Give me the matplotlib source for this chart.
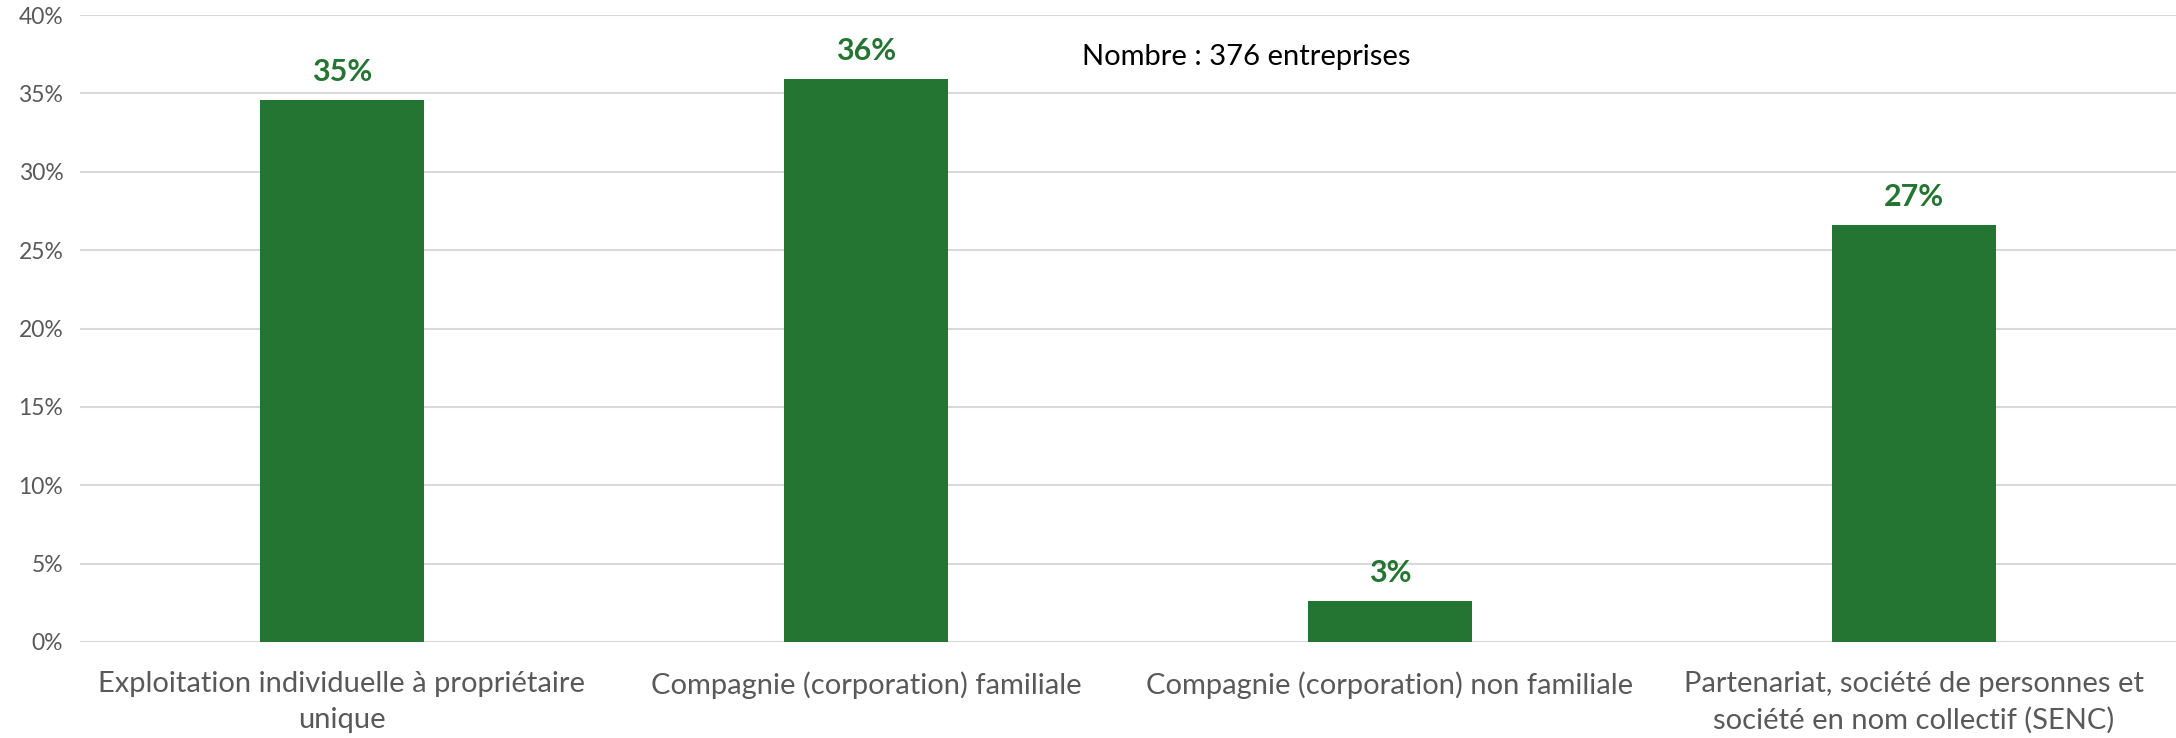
import matplotlib
matplotlib.use("Agg")
import matplotlib.pyplot as plt
from matplotlib.ticker import FuncFormatter, MultipleLocator

categories = [
    "Exploitation individuelle à propriétaire\nunique",
    "Compagnie (corporation) familiale",
    "Compagnie (corporation) non familiale",
    "Partenariat, société de personnes et\nsociété en nom collectif (SENC)",
]
shares = [0.346, 0.359, 0.026, 0.266]
share_labels = ["35%", "36%", "3%", "27%"]
note = "Nombre : 376 entreprises"

green = "#247532"
grey_text = "#595959"

plt.rcParams["font.family"] = ["Lato", "DejaVu Sans"]

fig = plt.figure(figsize=(21.76, 7.38), dpi=100)
ax = fig.add_axes([80 / 2176, 1 - 642 / 738, 2096 / 2176, 627 / 738])

x = range(len(categories))
ax.bar(x, shares, width=0.313, color=green, zorder=2)

for xi, val, lab in zip(x, shares, share_labels):
    ax.annotate(lab, (xi, val), xytext=(0, 10), textcoords="offset points",
                ha="center", va="bottom", fontsize=22, fontweight="bold",
                color=green)

ax.set_xlim(-0.5, len(categories) - 0.5)
ax.set_ylim(0, 0.40)
ax.yaxis.set_major_locator(MultipleLocator(0.05))
ax.yaxis.set_major_formatter(FuncFormatter(lambda v, _: f"{v * 100:.0f}%"))
ax.grid(axis="y", color="#d9d9d9", linewidth=1.5, zorder=0)
ax.set_axisbelow(True)

for s in ax.spines.values():
    s.set_visible(False)

ax.set_xticks(list(x))
ax.set_xticklabels(categories, fontsize=21, color=grey_text, linespacing=1.45)
ax.tick_params(axis="x", length=0, pad=21)
ax.tick_params(axis="y", length=0, pad=12, labelsize=16.5, labelcolor=grey_text)

ax.text(1082 / 2176, 1 - 57 / 738, note, transform=fig.transFigure,
        ha="left", va="center", fontsize=21, color="black")

fig.savefig("out.png", dpi=100)
